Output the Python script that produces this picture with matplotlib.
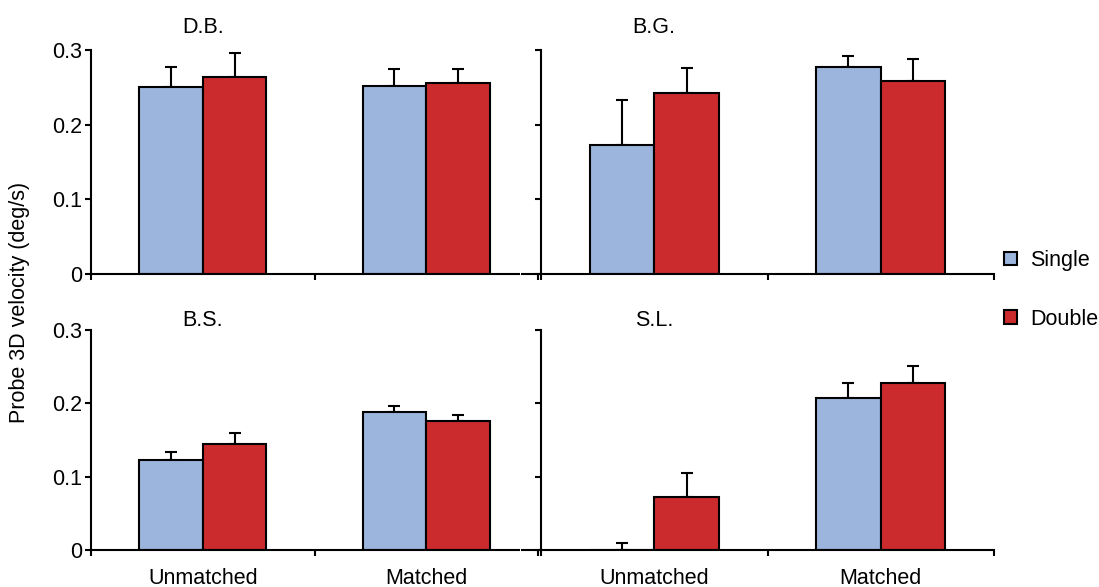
import numpy as np
import matplotlib.pyplot as plt

plt.rcParams['font.family'] = ['Liberation Sans', 'DejaVu Sans']

# Probe 3D velocity (deg/s), groups: Unmatched, Matched
groups = ['Unmatched', 'Matched']
subjects = ['D.B.', 'B.G.', 'B.S.', 'S.L.']

single_mean = {'D.B.': [0.250, 0.252], 'B.G.': [0.173, 0.277],
               'B.S.': [0.123, 0.188], 'S.L.': [0.000, 0.207]}
single_err = {'D.B.': [0.027, 0.022], 'B.G.': [0.060, 0.015],
              'B.S.': [0.011, 0.008], 'S.L.': [0.0095, 0.021]}
double_mean = {'D.B.': [0.264, 0.256], 'B.G.': [0.242, 0.258],
               'B.S.': [0.145, 0.176], 'S.L.': [0.072, 0.228]}
double_err = {'D.B.': [0.032, 0.018], 'B.G.': [0.034, 0.030],
              'B.S.': [0.015, 0.008], 'S.L.': [0.033, 0.023]}

c_single = '#9BB5DD'
c_double = '#CC2B2D'
fs = 15.5

fig = plt.figure(figsize=(10.99, 5.87), dpi=100)
W, H = 1099, 587

# axes boxes in pixels: (x0, x1, y_zero, y_top)
boxes = {
    'D.B.': (91, 538, 274, 50),
    'B.G.': (541, 994, 274, 50),
    'B.S.': (91, 538, 550, 330),
    'S.L.': (541, 994, 550, 330),
}

x = np.array([0.5, 1.5])
bw = 0.285
lw = 1.5

axes = {}
for subj in subjects:
    x0, x1, yz, yt = boxes[subj]
    ax = fig.add_axes([x0 / W, (H - yz) / H, (x1 - x0) / W, (yz - yt) / H])
    axes[subj] = ax
    ax.set_xlim(0, 2)
    ax.set_ylim(0, 0.3)

    ax.errorbar(x - bw / 2, single_mean[subj], yerr=[[0, 0], single_err[subj]],
                fmt='none', ecolor='black', elinewidth=lw, capsize=4.5,
                capthick=lw, zorder=1)
    ax.errorbar(x + bw / 2, double_mean[subj], yerr=[[0, 0], double_err[subj]],
                fmt='none', ecolor='black', elinewidth=lw, capsize=4.5,
                capthick=lw, zorder=1)
    ax.bar(x - bw / 2, single_mean[subj], bw, color=c_single, edgecolor='black',
           linewidth=lw, zorder=2, label='Single')
    ax.bar(x + bw / 2, double_mean[subj], bw, color=c_double, edgecolor='black',
           linewidth=lw, zorder=2, label='Double')

    for s in ['top', 'right']:
        ax.spines[s].set_visible(False)
    for s in ['left', 'bottom']:
        ax.spines[s].set_linewidth(lw)

    ax.set_yticks([0, 0.1, 0.2, 0.3])
    ax.set_xticks([0, 1, 2])
    ax.set_xticklabels([])
    ax.tick_params(axis='both', which='major', direction='out', length=4.5,
                   width=lw, labelsize=fs, pad=2)

    # group labels under bottom panels
    if subj in ('B.S.', 'S.L.'):
        ax.set_xticks(x, minor=True)
        ax.set_xticklabels(groups, minor=True)
        ax.tick_params(axis='x', which='minor', length=0, labelsize=fs, pad=13)

    if subj in ('B.G.', 'S.L.'):
        ax.set_yticklabels([])
        # extend bottom spine leftwards towards the break
        ax.spines['bottom'].set_bounds(-0.062, 2)
    else:
        ax.set_yticklabels(['0', '0.1', '0.2', '0.3'])
        ax.spines['bottom'].set_bounds(0, 1.915)
        ax.plot([1.925, 1.947], [0, 0], color='black', lw=lw,
                solid_capstyle='butt', clip_on=False)

    ty = 0.3228 if subj in ('D.B.', 'B.G.') else 0.3055
    ax.text(0.5, ty, subj, ha='center', va='baseline', fontsize=fs, clip_on=False)

fig.text(20 / W, 1 - 302 / H, 'Probe 3D velocity (deg/s)', rotation=90,
         ha='center', va='center', fontsize=fs)

handles, labels = axes['D.B.'].get_legend_handles_labels()
fig.legend(handles, labels, loc='upper left', bbox_to_anchor=(1004 / W, 1 - 250 / H),
           frameon=False, fontsize=fs, handlelength=0.6, handleheight=0.6,
           handletextpad=0.6, labelspacing=1.75, borderaxespad=0, borderpad=0)

fig.savefig('out.png', dpi=100)
